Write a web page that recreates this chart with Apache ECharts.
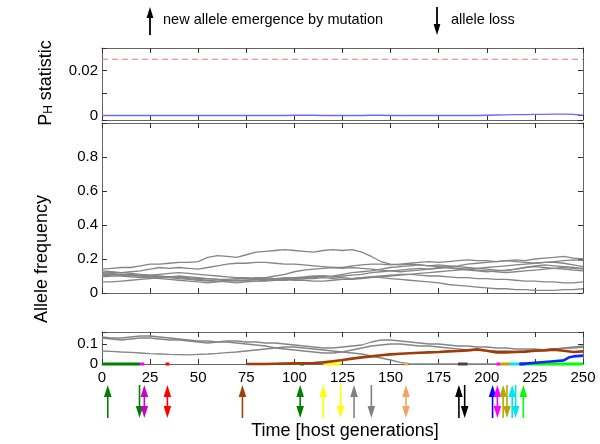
<!DOCTYPE html>
<html><head><meta charset="utf-8">
<script src="https://cdn.jsdelivr.net/npm/echarts@6/dist/echarts.min.js"></script>
<style>html,body{margin:0;padding:0;background:#fff}#chart{width:600px;height:444px}</style>
</head><body><div id="chart"></div>
<script>
// ---------- DATA ----------
const timeSteps = [0,5,10,15,20,25,30,35,40,45,50,55,60,65,70,75,80,85,90,95,100,105,110,115,120,125,130,135,140,145,150,155,160,165,170,175,180,185,190,195,200,205,210,215,220,225,230,235,240,245,250];
const xTickLabels = [0,25,50,75,100,125,150,175,200,225,250];

// P_H statistic (top panel)
const pStat = [0,0,0,0,0,0,0,0,0,0,0,0,0,0,0,0,0,0,0,0,0.0001,0.0001,0.0001,0,0,0,0,0,0.0001,0.0001,0,0,0,0,0,0,0,0,0,0,0.0001,0.0002,0.0003,0.0004,0.0004,0.0005,0.0005,0.0006,0.0006,0.0005,0.0001];
const pThreshold = 0.025;

// Allele frequencies (middle panel)
const freqA = [.14,.145,.15,.15,.16,.17,.17,.175,.18,.18,.185,.21,.22,.215,.21,.225,.24,.245,.25,.255,.25,.245,.24,.25,.255,.25,.255,.24,.215,.185,.17,.165,.17,.165,.16,.165,.16,.155,.15,.145,.14,.135,.13,.14,.15,.16,.165,.16,.155,.15,.145];
const freqB = [.115,.12,.12,.125,.13,.14,.15,.145,.15,.145,.14,.15,.16,.17,.175,.175,.18,.18,.175,.17,.17,.165,.16,.155,.15,.15,.16,.165,.17,.17,.165,.17,.175,.18,.185,.18,.185,.19,.195,.19,.19,.185,.19,.195,.19,.2,.205,.21,.215,.205,.2];
const freqC = [.13,.125,.12,.115,.11,.105,.1,.095,.09,.085,.08,.075,.07,.075,.07,.075,.08,.09,.1,.11,.125,.135,.14,.145,.15,.145,.15,.145,.14,.135,.13,.125,.13,.135,.14,.15,.155,.16,.17,.175,.18,.185,.19,.185,.18,.175,.18,.185,.19,.195,.19];
const freqD = [.1,.105,.11,.11,.105,.1,.095,.095,.09,.09,.085,.085,.08,.075,.075,.07,.07,.075,.08,.085,.09,.095,.1,.1,.095,.1,.105,.11,.12,.125,.13,.135,.14,.145,.14,.145,.15,.14,.135,.13,.125,.13,.135,.14,.15,.155,.15,.145,.14,.135,.13];
const freqE = [.12,.115,.11,.105,.1,.095,.09,.09,.085,.08,.075,.07,.07,.065,.06,.065,.07,.07,.075,.075,.08,.085,.085,.09,.085,.08,.08,.085,.09,.095,.1,.105,.11,.115,.12,.125,.13,.135,.14,.145,.15,.155,.16,.165,.17,.175,.18,.18,.175,.165,.155];
const freqF = [.095,.1,.1,.095,.09,.09,.085,.08,.075,.07,.065,.06,.065,.07,.075,.075,.08,.08,.085,.09,.09,.09,.095,.1,.095,.09,.085,.09,.095,.09,.085,.08,.075,.07,.065,.06,.05,.045,.04,.035,.03,.025,.025,.02,.02,.015,.015,.015,.02,.02,.025];
const freqG = [.065,.065,.07,.075,.08,.085,.09,.095,.1,.095,.09,.085,.08,.08,.085,.085,.09,.09,.085,.08,.075,.075,.07,.07,.075,.08,.085,.09,.095,.1,.105,.11,.11,.105,.1,.1,.095,.09,.09,.085,.085,.08,.08,.075,.07,.07,.065,.065,.06,.06,.065];
const freqH = [.11,.11,.105,.1,.1,.105,.11,.115,.12,.115,.11,.105,.1,.095,.09,.09,.085,.085,.08,.08,.085,.085,.09,.095,.1,.11,.12,.125,.13,.14,.15,.155,.16,.165,.16,.155,.15,.145,.14,.135,.13,.125,.12,.125,.13,.135,.14,.145,.15,.145,.14];

// Low-frequency panel (bottom)
const lowA = [.135,.13,.13,.135,.14,.14,.135,.13,.125,.12,.115,.115,.11,.115,.115,.11,.11,.105,.105,.1,.095,.09,.085,.08,.08,.085,.09,.095,.11,.12,.12,.115,.11,.105,.1,.1,.095,.09,.09,.085,.085,.08,.08,.075,.075,.075,.07,.075,.08,.085,.09];
const lowB = [.13,.125,.12,.125,.13,.13,.125,.12,.12,.115,.11,.105,.11,.11,.105,.1,.095,.09,.08,.075,.07,.065,.06,.055,.055,.06,.07,.08,.09,.095,.1,.1,.095,.09,.09,.085,.08,.075,.07,.068,.067,.065,.065,.063,.065,.07,.072,.075,.078,.08,.083];
const lowC = [.065,.063,.06,.058,.055,.052,.05,.048,.047,.046,.048,.05,.053,.057,.06,.065,.07,.075,.08,.085,.085,.08,.075,.07,.065,.06,.055,.05,.04,.03,.02,.008,0,0,0,0,0,0,0,0,0,0,null,null,null,null,null,null,null,null,null];
const brownTimes = [75,80,85,90,95,100,105,110,115,120,125,130,135,140,145,150,155,160,165,170,175,180,185,190,195,200,205,210,215,220,225,230,235,240,245,250];
const brownValues = [0,0,0,0.001,0.002,0.003,0.004,0.005,0.008,0.014,0.02,0.027,0.033,0.038,0.044,0.048,0.051,0.054,0.056,0.058,0.06,0.063,0.065,0.068,0.073,0.066,0.058,0.058,0.06,0.062,0.066,0.068,0.072,0.066,0.06,0.063];
const blueTimes = [217,220,225,230,235,240,243,245,250];
const blueValues = [0,0.002,0.006,0.01,0.014,0.018,0.034,0.038,0.042];

// Short-lived alleles sitting at ~0 frequency
const zeroSegStart = [0,20,33,103,115,157,185,205,207,212,217,220];
const zeroSegEnd   = [20,22,35,105,124,159,190,207,212,217,220,250];
const zeroSegColor = ['#008000','#ff00ff','#ff0000','#008000','#ffff00','#f4a460','#444444','#ff00ff','#b8a800','#00e5ee','#0000ff','#00ff00'];

// Mutation / loss events
const eventTimes  = [3,19.5,22,34,73,103,115,124,131,140,158,185.5,188.5,203,205.5,208.5,210.5,213.2,215,219];
const eventKinds  = ['up','down','both','both','up','both','up','down','up','down','both','up','down','up','both','up','down','up','down','up'];
const eventColors = ['#008000','#008000','#cc00cc','#ff0000','#a0400a','#008000','#ffff00','#ffff00','#808080','#808080','#f4a460','#000000','#000000','#0000ff','#ff00ff','#b8a800','#b8a800','#00e5ee','#00e5ee','#00ff00'];

// ---------- CHART ----------
const FF = 'Liberation Sans, Arial, Helvetica, sans-serif';
const chart = echarts.init(document.getElementById('chart'), null, {renderer:'canvas'});
const gridsPx = [
  {left:102, width:481, top:48, height:72},
  {left:102, width:481, top:123, height:170},
  {left:102, width:481, top:332, height:32},
  {left:102, width:481, top:385, height:33}
];
function xAx(g, pos, labels) {
  return {type:'value', gridIndex:g, min:0, max:250, interval:25, position:pos,
    axisLine:{show:true, onZero:false, lineStyle:{color:'#666', width:1}},
    axisTick:{show:true, inside:true, length:5, lineStyle:{color:'#333'}},
    axisLabel:{show:labels, fontSize:15, fontFamily:FF, color:'#000', margin:6,
      formatter: v => xTickLabels.indexOf(v) >= 0 ? String(v) : ''},
    splitLine:{show:false}};
}
function yAx(g, pos, labels, min, max, interval, shown) {
  const o = {type:'value', gridIndex:g, min:min, max:max, position:pos,
    axisLine:{show:true, onZero:false, lineStyle:{color:'#666', width:1}},
    axisTick:{show:true, inside:true, length:5, lineStyle:{color:'#333'}},
    axisLabel:{show:labels, fontSize:15, fontFamily:FF, color:'#000', margin:4,
      formatter: v => { for (const s of shown) { if (Math.abs(v - s) < 1e-9) return String(s); } return ''; }},
    splitLine:{show:false}};
  if (interval) o.interval = interval; else o.splitNumber = 3;
  return o;
}
const pShown = [0, 0.02];
const fShown = [0, 0.2, 0.4, 0.6, 0.8];
const lShown = [0, 0.1];
const xAxes = [
  xAx(0,'bottom',false), xAx(1,'bottom',false), xAx(2,'bottom',true),
  xAx(0,'top',false), xAx(1,'top',false), xAx(2,'top',false),
  {type:'value', gridIndex:3, min:0, max:250, show:false}
];
const yAxes = [
  yAx(0,'left',true,-0.002,0.03,null,pShown), yAx(1,'left',true,0,1,0.2,fShown), yAx(2,'left',true,0,0.16,0.1,lShown),
  yAx(0,'right',false,-0.002,0.03,null,pShown), yAx(1,'right',false,0,1,0.2,fShown), yAx(2,'right',false,0,0.16,0.1,lShown),
  {type:'value', gridIndex:3, min:0, max:1, show:false}
];
const pair = (ts, vs) => ts.map((t,i) => [t, vs[i]]);
const series = [];
series.push({type:'line', xAxisIndex:0, yAxisIndex:0, data:[[0,pThreshold],[250,pThreshold]], showSymbol:false,
  lineStyle:{color:'#f07a6a', width:1.2, type:[6,4]}});
series.push({type:'line', xAxisIndex:0, yAxisIndex:0, data:pair(timeSteps,pStat), showSymbol:false, clip:false,
  lineStyle:{color:'#6a6aff', width:1.4}});
[freqA,freqB,freqC,freqD,freqE,freqF,freqG,freqH].forEach(f => series.push({type:'line', xAxisIndex:1, yAxisIndex:1,
  data:pair(timeSteps,f), showSymbol:false, lineStyle:{color:'#858585', width:1.3}}));
[lowA,lowB,lowC].forEach(f => series.push({type:'line', xAxisIndex:2, yAxisIndex:2, clip:false,
  data:pair(timeSteps,f), showSymbol:false, connectNulls:false, lineStyle:{color:'#858585', width:1.3}}));
zeroSegStart.forEach((s,i) => series.push({type:'line', xAxisIndex:2, yAxisIndex:2, clip:false,
  data:[[s,0],[zeroSegEnd[i],0]], showSymbol:false, z:4, lineStyle:{color:zeroSegColor[i], width:3, cap:'butt'}}));
series.push({type:'line', xAxisIndex:2, yAxisIndex:2, clip:false, data:pair(brownTimes,brownValues), showSymbol:false, z:5,
  lineStyle:{color:'#a33b08', width:2.6}});
series.push({type:'line', xAxisIndex:2, yAxisIndex:2, clip:false, data:pair(blueTimes,blueValues), showSymbol:false, z:5,
  lineStyle:{color:'#0a28ff', width:2.6}});
series.push({type:'custom', xAxisIndex:6, yAxisIndex:6, clip:false,
  data: eventTimes.map(t => [t, 0.5]),
  renderItem: function(params, api) {
    const i = params.dataIndex;
    const x = api.coord([api.value(0), 0])[0];
    const yB = api.coord([0, 0])[1];
    const yT = api.coord([0, 1])[1];
    const c = eventColors[i], k = eventKinds[i];
    const hl = 12, hw = 3.8;
    const ch = [];
    let y1 = yT, y2 = yB;
    if (k === 'up' || k === 'both') { ch.push({type:'polygon', shape:{points:[[x,yT],[x-hw,yT+hl],[x+hw,yT+hl]]}, style:{fill:c}}); y1 = yT + hl - 2; }
    if (k === 'down' || k === 'both') { ch.push({type:'polygon', shape:{points:[[x,yB],[x-hw,yB-hl],[x+hw,yB-hl]]}, style:{fill:c}}); y2 = yB - hl + 2; }
    ch.unshift({type:'line', shape:{x1:x, y1:y1, x2:x, y2:y2}, style:{stroke:c, lineWidth:1.6}});
    return {type:'group', children:ch};
  }});

const graphic = [
  {type:'line', shape:{x1:150,y1:35,x2:150,y2:14}, style:{stroke:'#000', lineWidth:1.8}},
  {type:'polygon', shape:{points:[[150,7],[146.6,18],[153.4,18]]}, style:{fill:'#000'}},
  {type:'text', x:163, y:20, style:{text:'new allele emergence by mutation', font:'14.5px '+FF, fill:'#000', verticalAlign:'middle'}},
  {type:'line', shape:{x1:437,y1:7,x2:437,y2:28}, style:{stroke:'#000', lineWidth:1.8}},
  {type:'polygon', shape:{points:[[437,35],[433.6,24],[440.4,24]]}, style:{fill:'#000'}},
  {type:'text', x:451, y:20, style:{text:'allele loss', font:'14.5px '+FF, fill:'#000', verticalAlign:'middle'}},
  {type:'text', x:42, y:83, rotation:Math.PI/2, style:{text:'{m|P}{s|H}{m| statistic}', align:'center', verticalAlign:'middle',
    rich:{m:{fontSize:18, fontFamily:FF, fill:'#000', verticalAlign:'bottom'}, s:{fontSize:12, fontFamily:FF, fill:'#000', padding:[14,0,0,0]}}}},
  {type:'text', x:42, y:259, rotation:Math.PI/2, style:{text:'Allele frequency', font:'18px '+FF, fill:'#000', align:'center', verticalAlign:'middle'}},
  {type:'text', x:345, y:431, style:{text:'Time [host generations]', font:'18px '+FF, fill:'#000', align:'center', verticalAlign:'middle'}}
];

chart.setOption({animation:false, backgroundColor:'#fff', grid:gridsPx, xAxis:xAxes, yAxis:yAxes, series:series, graphic:graphic});
</script></body></html>
